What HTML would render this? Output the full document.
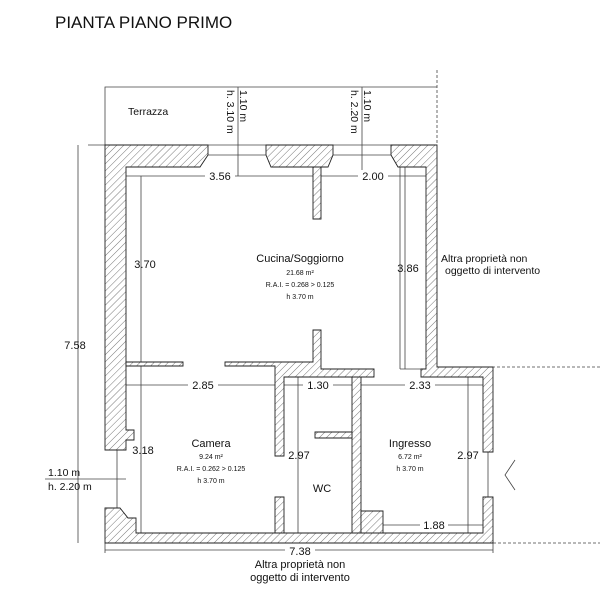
<!DOCTYPE html>
<html><head><meta charset="utf-8"><style>
html,body{margin:0;padding:0;background:#fff;}
svg{display:block;}
text{font-family:"Liberation Sans",sans-serif;fill:#111;}
</style></head><body>
<svg width="600" height="597" viewBox="0 0 600 597" xmlns="http://www.w3.org/2000/svg">
<defs>
<pattern id="h" patternUnits="userSpaceOnUse" width="5" height="5" patternTransform="rotate(45)">
<rect width="5" height="5" fill="#fff"/><line x1="0" y1="0" x2="0" y2="5" stroke="#555" stroke-width="0.8"/>
</pattern>
</defs>
<text x="55" y="28" font-size="17">PIANTA PIANO PRIMO</text>
<g stroke="#444" stroke-width="0.8" fill="none">
<polyline points="105,145 105,87 437,87"/>
<line x1="437" y1="70" x2="437" y2="145" stroke-dasharray="3,2"/>
<line x1="88" y1="145" x2="437" y2="145"/>
<line x1="208" y1="155" x2="266" y2="155"/>
<line x1="333" y1="155" x2="391" y2="155"/>
<line x1="493" y1="543" x2="600" y2="543" stroke-dasharray="3,2"/>
<line x1="437" y1="367" x2="600" y2="367" stroke-dasharray="3,2"/>
<line x1="78" y1="145" x2="78" y2="543"/>
<line x1="105" y1="550" x2="493" y2="550"/>
<line x1="105" y1="543" x2="105" y2="553"/><line x1="493" y1="543" x2="493" y2="553"/>
<line x1="238" y1="87" x2="238" y2="176"/>
<line x1="362" y1="87" x2="362" y2="176"/>
<line x1="126" y1="176" x2="313" y2="176"/>
<line x1="321" y1="176" x2="426" y2="176"/>
<line x1="141" y1="176" x2="141" y2="362"/>
<line x1="405" y1="167" x2="405" y2="369"/>
<line x1="400" y1="167" x2="400" y2="369"/>
<line x1="400" y1="369" x2="421" y2="369"/>
<line x1="126" y1="385" x2="275" y2="385"/>
<line x1="141" y1="366" x2="141" y2="533"/>
<line x1="284" y1="385" x2="352" y2="385"/>
<line x1="298" y1="377" x2="298" y2="533"/>
<line x1="361" y1="385" x2="483" y2="385"/>
<line x1="468" y1="377" x2="468" y2="533"/>
<line x1="383" y1="525" x2="483" y2="525"/>
<line x1="117" y1="450" x2="117" y2="508"/>
<line x1="45" y1="479" x2="126" y2="479"/>
<line x1="488" y1="452" x2="488" y2="497"/>
<polyline points="515,460 505,475 515,490"/>
</g>
<g fill="url(#h)" stroke="#222" stroke-width="0.9">
<polygon points="105,145 208,145 208,155 200,167 126,167 126,430 134,430 134,440 126,440 126,450 105,450"/>
<polygon points="105,508 120,508 128,518 136,518 136,533 483,533 483,497 493,497 493,543 105,543"/>
<polygon points="266,145 333,145 333,155 328,167 271,167 266,155"/>
<polygon points="391,145 437,145 437,367 493,367 493,452 483,452 483,377 421,377 421,369 426,369 426,167 398,167 391,155"/>
<polygon points="126,362 183,362 183,366 126,366"/>
<polygon points="225,362 313,362 313,330 321,330 321,369 374,369 374,377 284,377 284,456 275,456 275,366 225,366"/>
<polygon points="352,377 361,377 361,533 352,533"/>
<polygon points="315,432 352,432 352,438 315,438"/>
<polygon points="313,167 321,167 321,219 313,219"/>
<polygon points="275,497 284,497 284,533 275,533"/>
<polygon points="361,511 383,511 383,533 361,533"/>
</g>
<g font-size="10.5">
<text x="128" y="115">Terrazza</text>
<text transform="translate(227,90) rotate(90)">h. 3.10 m</text>
<text transform="translate(240,90) rotate(90)">1.10 m</text>
<text transform="translate(351,90) rotate(90)">h. 2.20 m</text>
<text transform="translate(364,90) rotate(90)">1.10 m</text>
</g>
<g font-size="11" text-anchor="middle">
<rect x="205" y="170" width="30" height="12" fill="#fff"/>
<text x="220" y="180">3.56</text>
<rect x="358" y="170" width="30" height="12" fill="#fff"/>
<text x="373" y="180">2.00</text>
<text x="145" y="268">3.70</text>
<text x="408" y="272">3.86</text>
<rect x="188" y="379" width="30" height="12" fill="#fff"/>
<text x="203" y="389">2.85</text>
<rect x="303" y="379" width="30" height="12" fill="#fff"/>
<text x="318" y="389">1.30</text>
<rect x="405" y="379" width="30" height="12" fill="#fff"/>
<text x="420" y="389">2.33</text>
<text x="143" y="454">3.18</text>
<text x="299" y="459">2.97</text>
<text x="468" y="459">2.97</text>
<rect x="420" y="519" width="28" height="12" fill="#fff"/>
<text x="434" y="529">1.88</text>
<text x="75" y="349">7.58</text>
<rect x="285" y="545" width="30" height="10" fill="#fff"/>
<text x="300" y="555">7.38</text>
<text x="300" y="568">Altra proprietà non</text>
<text x="300" y="581">oggetto di intervento</text>
<text x="300" y="262">Cucina/Soggiorno</text>
<text x="211" y="447">Camera</text>
<text x="322" y="492">WC</text>
<text x="410" y="447">Ingresso</text>
</g>
<g font-size="7" text-anchor="middle">
<text x="300" y="275">21.68 m²</text>
<text x="300" y="287">R.A.I. = 0.268 &gt; 0.125</text>
<text x="300" y="299">h 3.70 m</text>
<text x="211" y="459">9.24 m²</text>
<text x="211" y="471">R.A.I. = 0.262 &gt; 0.125</text>
<text x="211" y="483">h 3.70 m</text>
<text x="410" y="459">6.72 m²</text>
<text x="410" y="471">h 3.70 m</text>
</g>
<g font-size="10.5">
<text x="441" y="262">Altra proprietà non</text>
<text x="445" y="274">oggetto di intervento</text>
<text x="48" y="476">1.10 m</text>
<text x="48" y="490">h. 2.20 m</text>
</g>
</svg>
</body></html>
